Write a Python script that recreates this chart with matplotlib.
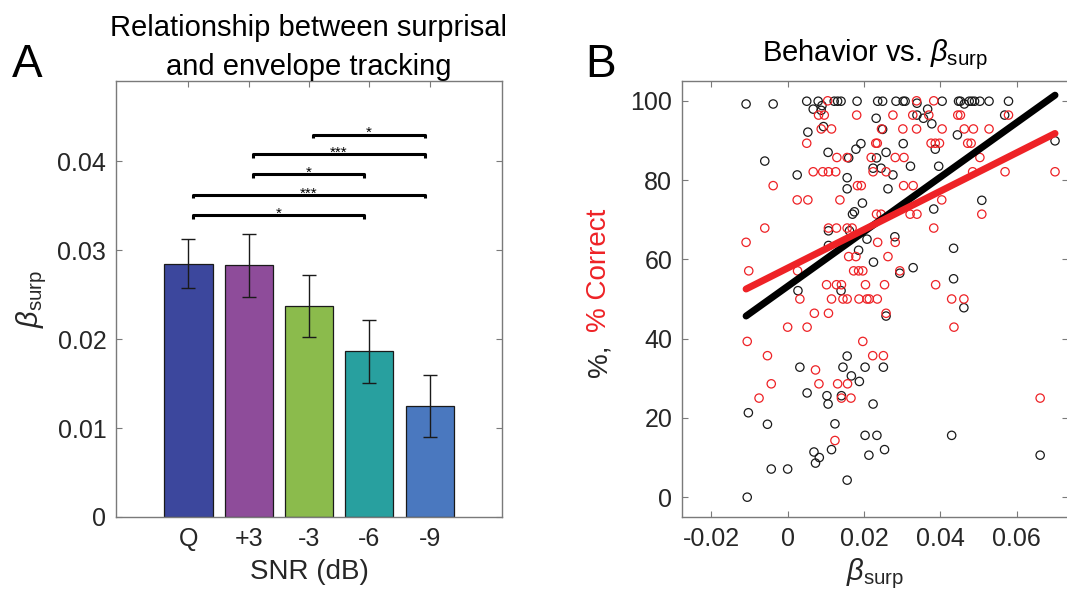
import numpy as np
import matplotlib
matplotlib.use('Agg')
import matplotlib.pyplot as plt

plt.rcParams['font.family'] = ['Liberation Sans', 'DejaVu Sans']
plt.rcParams['mathtext.fontset'] = 'custom'
plt.rcParams['mathtext.rm'] = 'Liberation Sans'
plt.rcParams['mathtext.it'] = 'Liberation Sans:italic'

# ---------------- Panel A: beta_surp por condicion ----------------
condiciones = ['Q', '+3', '-3', '-6', '-9']
beta_media = [0.02843, 0.02831, 0.02371, 0.01862, 0.01251]
err_sup = [0.03124, 0.03180, 0.02719, 0.02210, 0.01592]
err_inf = [0.02573, 0.02469, 0.02019, 0.01506, 0.00896]
colores = ['#3c479d', '#8e4c9a', '#8bbb4c', '#28a09f', '#4a78bf']

# comparaciones significativas (indices 1..5), altura y estrellas
sig_pares = [(3, 5), (2, 5), (2, 4), (1, 5), (1, 4)]
sig_altura = [0.04298, 0.04075, 0.03850, 0.03621, 0.03390]
sig_texto = ['*', '***', '*', '***', '*']

# ---------------- Panel B: comportamiento vs beta_surp ----------------
beta_negro = [-0.0109, -0.0038, -0.0060, -0.0103, -0.0053, -0.0043, -0.0106,
              0.0050, 0.0080, 0.0122, 0.0131, 0.0140, 0.0182, 0.0236, 0.0249, 0.0284,
              0.0067, 0.0088, 0.0090, 0.0232, 0.0094, 0.0249, 0.0053,
              0.0192, 0.0179, 0.0106, 0.0258, 0.0160, 0.0233,
              0.0224, 0.0245, 0.0276, 0.0025, 0.0156,
              0.0156, 0.0263, 0.0196, 0.0175, 0.0170,
              0.0107, 0.0162, 0.0281, 0.0208, 0.0107, 0.0186,
              0.0225, 0.0294, 0.0027, 0.0140, 0.0258,
              0.0156, 0.0032, 0.0145, 0.0203, 0.0251, 0.0167, 0.0188,
              0.0051, 0.0103, 0.0141, 0.0106, 0.0224,
              0.0124, 0.0203, 0.0234,
              0.0069, 0.0083, 0.0073, 0.0115, 0.0254, 0.0213,
              0.0000, 0.0156,
              0.0303, 0.0308, 0.0405, 0.0448, 0.0453, 0.0476, 0.0483, 0.0490, 0.0504, 0.0528, 0.0579,
              0.0339, 0.0463, 0.0339, 0.0569, 0.0367, 0.0356, 0.0378, 0.0445,
              0.0303, 0.0387, 0.0322, 0.0396, 0.0701,
              0.0509, 0.0383, 0.0435,
              0.0329, 0.0435, 0.0462, 0.0430, 0.0662]
pc_negro = [99.2, 99.2, 84.8, 21.3, 18.4, 7.1, 0.0,
            99.9, 99.9, 99.9, 99.9, 99.9, 99.9, 99.9, 99.9, 99.9,
            97.9, 97.6, 98.8, 95.6, 93.5, 92.8, 92.1,
            89.2, 87.8, 87.0, 87.0, 85.6, 85.6,
            83.0, 83.0, 81.3, 81.3, 80.6,
            77.8, 77.8, 74.2, 72.0, 71.4,
            67.2, 67.2, 65.7, 65.1, 63.5, 62.3,
            59.3, 56.5, 52.1, 52.1, 45.7,
            35.6, 32.8, 32.8, 32.8, 32.8, 30.6, 29.2,
            26.3, 25.6, 25.6, 23.5, 23.5,
            18.5, 15.6, 15.6,
            11.4, 10.0, 8.6, 12.0, 12.0, 10.6,
            7.1, 4.3,
            99.9, 99.9, 99.9, 99.9, 99.9, 99.9, 99.9, 99.9, 99.9, 99.9, 99.9,
            99.4, 99.2, 96.4, 96.4, 97.9, 95.6, 94.2, 91.4,
            89.2, 87.8, 83.5, 83.5, 89.9,
            74.9, 72.7, 62.8,
            57.9, 55.1, 47.8, 15.6, 10.6]

beta_rojo = [-0.0038, -0.0060, -0.0109, -0.0102, -0.0106, -0.0053, -0.0043, -0.0075,
             0.0105, 0.0081, 0.0096, 0.0181, 0.0276,
             0.0088, 0.0115, 0.0246,
             0.0050, 0.0231, 0.0235,
             0.0129, 0.0156, 0.0219, 0.0282,
             0.0067, 0.0092, 0.0107, 0.0126, 0.0224, 0.0258,
             0.0183, 0.0193,
             0.0025, 0.0053, 0.0137,
             0.0233, 0.0245,
             0.0107, 0.0128, 0.0156, 0.0169,
             0.0236, 0.0282,
             0.0160, 0.0179, 0.0263,
             0.0026, 0.0173, 0.0186, 0.0197, 0.0294,
             0.0102, 0.0128, 0.0141, 0.0204, 0.0254,
             0.0032, 0.0115, 0.0145, 0.0156, 0.0187, 0.0208, 0.0214, 0.0235,
             0.0070, 0.0107, 0.0258,
             0.0000, 0.0051,
             0.0197,
             0.0223, 0.0251,
             0.0073,
             0.0082, 0.0131, 0.0157,
             0.0141, 0.0166,
             0.0124,
             0.0338, 0.0383,
             0.0328, 0.0370, 0.0446, 0.0453, 0.0579,
             0.0302, 0.0338, 0.0405, 0.0463, 0.0487, 0.0528,
             0.0376, 0.0387, 0.0398, 0.0472, 0.0481,
             0.0305, 0.0504,
             0.0485, 0.0570, 0.0701,
             0.0304, 0.0329,
             0.0404,
             0.0321, 0.0339, 0.0509,
             0.0383,
             0.0388, 0.0430, 0.0462, 0.0436,
             0.0662]
pc_rojo = [78.6, 67.9, 64.3, 57.1, 39.3, 35.7, 28.6, 25.0,
           100.0, 96.4, 96.4, 96.4, 96.4,
           92.9, 92.9, 92.9,
           89.3, 89.3, 89.3,
           85.7, 85.7, 85.7, 85.7,
           82.1, 82.1, 82.1, 82.1, 82.1, 82.1,
           78.6, 78.6,
           75.0, 75.0, 75.0,
           71.4, 71.4,
           67.9, 67.9, 67.9, 67.9,
           64.3, 64.3,
           60.7, 60.7, 60.7,
           57.1, 57.1, 57.1, 57.1, 57.1,
           53.6, 53.6, 53.6, 53.6, 53.6,
           50.0, 50.0, 50.0, 50.0, 50.0, 50.0, 50.0, 50.0,
           46.4, 46.4, 46.4,
           42.9, 42.9,
           39.3,
           35.7, 35.7,
           32.1,
           28.6, 28.6, 28.6,
           25.0, 25.0,
           14.3,
           100.0, 100.0,
           96.4, 96.4, 96.4, 96.4, 96.4,
           92.9, 92.9, 92.9, 92.9, 92.9, 92.9,
           89.3, 89.3, 89.3, 89.3, 89.3,
           85.7, 85.7,
           82.1, 82.1, 82.1,
           78.6, 78.6,
           75.0,
           71.4, 71.4, 71.4,
           67.9,
           53.6, 50.0, 50.0, 42.9,
           25.0]

# rectas de ajuste (pendiente, intercepto)
ajuste_negro = (688.0, 53.2)
ajuste_rojo = (484.6, 57.8)

gris_eje = '#7a7a7a'
gris_txt = '#262626'
rojo = '#ee2226'

fig = plt.figure(figsize=(10.67, 6.08), dpi=100)
W, H = 1067, 608

# ====================== PANEL A ======================
ax1 = fig.add_axes([116 / W, 1 - 517 / H, 386 / W, 436 / H])
x = np.arange(1, len(condiciones) + 1)
ax1.bar(x, beta_media, width=0.8, color=colores, edgecolor='#1a1a1a', linewidth=0.9, zorder=2)
ax1.errorbar(x, beta_media,
             yerr=[np.array(beta_media) - np.array(err_inf), np.array(err_sup) - np.array(beta_media)],
             fmt='none', ecolor='#1a1a1a', elinewidth=1.0, capsize=5, capthick=1.0, zorder=3)

for (a, b), h, s in zip(sig_pares, sig_altura, sig_texto):
    x1, x2 = a + 0.07, b - 0.08
    ax1.plot([x1, x1, x2, x2], [h - 0.0004, h, h, h - 0.0004], color='black', lw=2.2,
             solid_capstyle='butt', zorder=4)
    ax1.text((x1 + x2) / 2, h - 0.0003, s, ha='center', va='baseline', fontsize=11, color='black')

ax1.set_xlim(-0.2, 6.2)
ax1.set_ylim(0, 0.049)
ax1.set_xticks(x)
ax1.set_xticklabels(condiciones)
ax1.set_yticks([0, 0.01, 0.02, 0.03, 0.04])
ax1.set_yticklabels(['0', '0.01', '0.02', '0.03', '0.04'])
ax1.set_xlabel('SNR (dB)', fontsize=20, color=gris_txt, labelpad=6)
ax1.set_ylabel(r'$\beta_{\mathrm{surp}}$', fontsize=21, color=gris_txt, labelpad=6)
ax1.set_title('Relationship between surprisal\nand envelope tracking', fontsize=21,
              color='black', pad=4, linespacing=1.5)

# ====================== PANEL B ======================
ax2 = fig.add_axes([682 / W, 1 - 517 / H, 386 / W, 436 / H])
ax2.scatter(beta_negro, pc_negro, s=36, facecolors='none', edgecolors='#1a1a1a',
            linewidths=0.9, zorder=2)
ax2.scatter(beta_rojo, pc_rojo, s=36, facecolors='none', edgecolors=rojo,
            linewidths=0.9, zorder=2)

xs = np.array([min(beta_negro + beta_rojo), max(beta_negro + beta_rojo)])
ax2.plot(xs, ajuste_negro[0] * xs + ajuste_negro[1], color='black', lw=5,
         solid_capstyle='round', zorder=3)
ax2.plot(xs, ajuste_rojo[0] * xs + ajuste_rojo[1], color=rojo, lw=5,
         solid_capstyle='round', zorder=4)

ax2.set_xlim(-0.0277, 0.0735)
ax2.set_ylim(-5, 105)
ax2.set_xticks([-0.02, 0, 0.02, 0.04, 0.06])
ax2.set_xticklabels(['-0.02', '0', '0.02', '0.04', '0.06'])
ax2.set_yticks([0, 20, 40, 60, 80, 100])
ax2.set_xlabel(r'$\beta_{\mathrm{surp}}$', fontsize=21, color=gris_txt, labelpad=4)
ax2.set_title(r'Behavior vs. $\beta_{\mathrm{surp}}$', fontsize=21, color='black', pad=14)

# etiqueta Y en dos colores
ax2.text(-0.215, 0.358, '%,', transform=ax2.transAxes, rotation=90, ha='center', va='center',
         fontsize=20, color=gris_txt)
ax2.text(-0.215, 0.565, '% Correct', transform=ax2.transAxes, rotation=90, ha='center',
         va='center', fontsize=20, color=rojo)

for ax in (ax1, ax2):
    for sp in ax.spines.values():
        sp.set_color(gris_eje)
        sp.set_linewidth(1.0)
    ax.tick_params(direction='in', top=True, right=True, length=4, width=0.8,
                   color=gris_eje, labelcolor=gris_txt, labelsize=18, pad=7)

fig.text(12 / W, 1 - 77 / H, 'A', fontsize=33, va='baseline', ha='left')
fig.text(585 / W, 1 - 77 / H, 'B', fontsize=33, va='baseline', ha='left')

fig.savefig('out.png', dpi=100)
